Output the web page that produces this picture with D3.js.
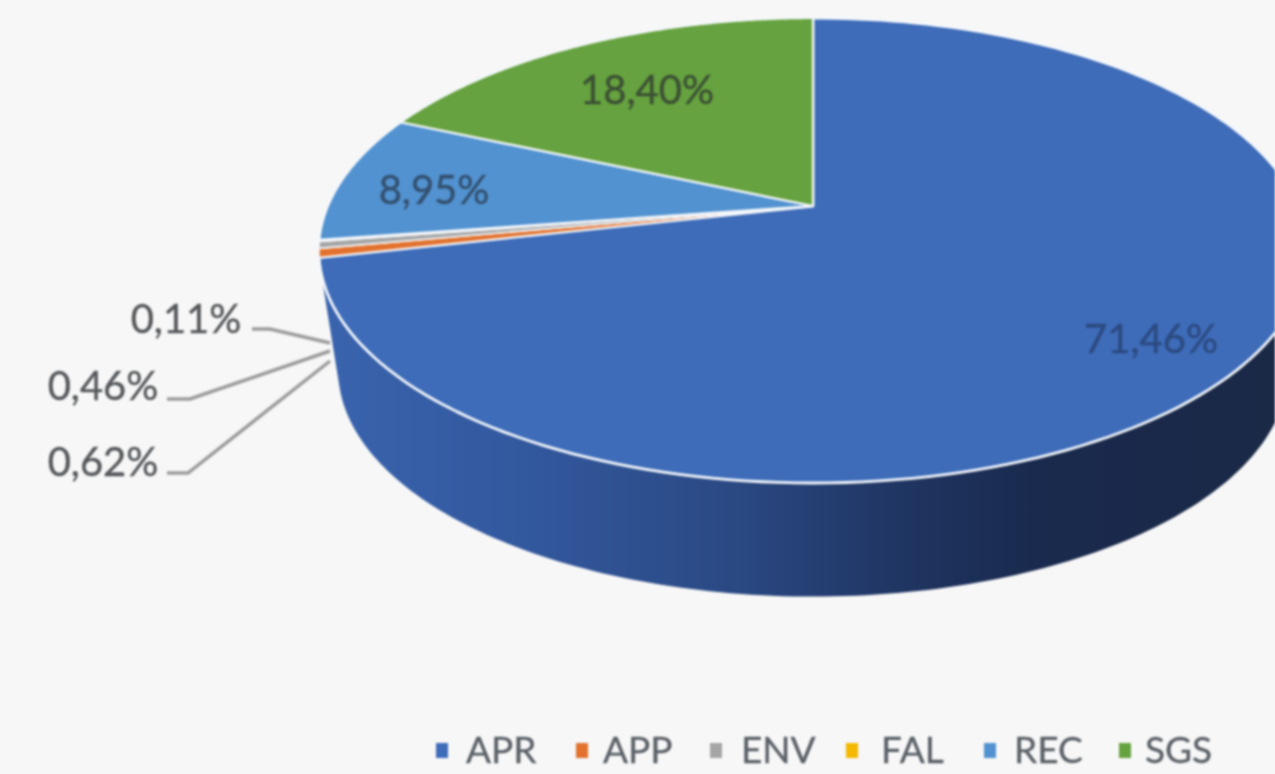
<!DOCTYPE html>
<html><head><meta charset="utf-8">
<script src="https://cdnjs.cloudflare.com/ajax/libs/d3/7.8.5/d3.min.js"></script>
<style>html,body{margin:0;padding:0;background:#f7f7f7;overflow:hidden}svg{display:block;filter:blur(.8px)}text{font-family:Lato,"Open Sans",sans-serif}</style>
</head><body><svg id="c" width="1275" height="774"></svg>
<script>
const categories=["APR","APP","ENV","FAL","REC","SGS"];
const values=[71.46,0.62,0.46,0.11,8.95,18.40];
const valueLabels=["71,46%","0,62%","0,46%","0,11%","8,95%","18,40%"];
const colors=["#3e6cb9","#e2722e","#a5a5a5","#f4b800","#5292d0","#66a23f"];
const labelColors=["#2c4a80","#55585b","#55585b","#55585b","#33506f","#3b5034"];

// layout only
const labelX=[1151,103,103,186,434,647], labelY=[353,476,400,333,204,104];
const legendSwatchX=[436,576,710,846,984,1119], legendTextX=[466,603,741,881,1014,1145];
const sliceStroke=[2.8,1.6,1.6,1.6,2.2,2.2];
const leaders=[null,[[167,473],[188,473],[330,361]],[[167,399],[190,399],[330,351]],[[252,329],[270,329],[330,343]],null,null];

const svg=d3.select("#c");
const defs=svg.append("defs");
const grad=defs.append("linearGradient").attr("id","wall").attr("gradientUnits","userSpaceOnUse")
  .attr("x1",320).attr("x2",1275).attr("y1",0).attr("y2",0);
[[0,"#3a64ae"],[.2,"#33599f"],[.42,"#2b4a85"],[.62,"#1f3460"],[.75,"#1a2a4e"],[1,"#1a2946"]]
  .forEach(s=>grad.append("stop").attr("offset",s[0]).attr("stop-color",s[1]));

// perspective disc projection
const P=0.1914;
const proj=(cx,cy,W,H)=>t=>{const u=Math.sin(t),v=Math.cos(t),k=1+P*v;return [cx+W*u/k,cy-H*v/k];};
const topDisc=proj(813,206,485,224);
const botDisc=proj(813,327,466,218);
const apex=[813,206];
const line=d3.line();
const sample=(p,a,b,n=160)=>d3.range(n+1).map(i=>p(a+(b-a)*i/n));

const arcs=d3.pie().sort(null).startAngle(0).endAngle(2*Math.PI)(values);

// side wall of the front slice
const wallStart=Math.PI/2*0.98, wallEnd=arcs[0].endAngle-0.04;
svg.append("path")
  .attr("d",line(sample(topDisc,wallStart,wallEnd).concat(sample(botDisc,wallEnd,wallStart)))+"Z")
  .attr("fill","url(#wall)");

// top faces
svg.append("g").selectAll("path").data(arcs).join("path")
  .attr("d",d=>line([apex].concat(sample(topDisc,d.startAngle,d.endAngle)))+"Z")
  .attr("fill",(d,i)=>colors[i])
  .attr("stroke","#f4f7fb").attr("stroke-width",(d,i)=>sliceStroke[i]).attr("stroke-linejoin","round");

// leaders
svg.append("g").selectAll("path").data(leaders.filter(Boolean)).join("path")
  .attr("d",d=>line(d)).attr("fill","none").attr("stroke","#9c9c9c").attr("stroke-width",3.5);

// labels
svg.append("g").selectAll("text").data(valueLabels).join("text")
  .attr("x",(d,i)=>labelX[i]).attr("y",(d,i)=>labelY[i])
  .attr("text-anchor","middle").attr("font-size",40)
  .attr("stroke",(d,i)=>labelColors[i]).attr("stroke-width",.4)
  .attr("fill",(d,i)=>labelColors[i]).text(d=>d);

// legend
const lg=svg.append("g").selectAll("g").data(categories).join("g");
lg.append("rect").attr("x",(d,i)=>legendSwatchX[i]).attr("y",743).attr("width",12).attr("height",15)
  .attr("fill",(d,i)=>colors[i]);
lg.append("text").attr("x",(d,i)=>legendTextX[i]).attr("y",763).attr("font-size",37)
  .attr("stroke","#595f66").attr("stroke-width",.3)
  .attr("fill","#595f66").text(d=>d);
</script></body></html>
